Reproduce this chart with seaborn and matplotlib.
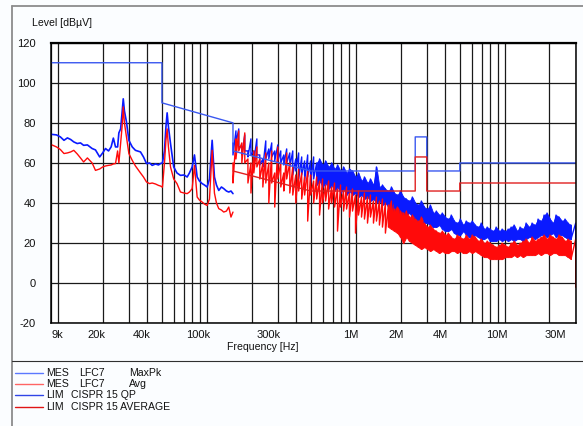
import numpy as np
import pandas as pd
import matplotlib
matplotlib.use("Agg")
import matplotlib.pyplot as plt
import matplotlib.transforms as mtransforms
from matplotlib.lines import Line2D
from matplotlib.ticker import LogLocator, NullFormatter
import seaborn as sns

# --- measurement, band 9 kHz - 150 kHz (frequencies in kHz) ---
band1_khz = [9.0, 9.8, 10.4, 11.0, 11.6, 12.2, 12.8, 13.5, 14.2, 14.9,
             15.8, 17.0, 17.9, 19.1, 20.0, 20.9, 21.9, 22.8, 23.6, 24.4,
             25.2, 25.7, 26.4, 27.0, 27.5, 28.0, 28.9, 30.0, 31.6, 33.2,
             35.9, 37.6, 39.4, 41.3, 43.0, 45.3, 47.4, 48.9, 50.4, 52.0,
             53.2, 54.2, 55.3, 57.1, 60.0, 63.1, 66.6, 70.3, 73.9, 76.5,
             79.8, 82.7, 86.2, 89.3, 93.1, 96.5, 100.6, 104.3, 108.7, 112.6,
             116.2, 120.4, 125.5, 130.0, 135.6, 140.5, 145.4, 150.0]
band1_maxpk = [74.3, 74, 73, 71.3, 72.5, 71.7, 70.5, 69.7, 70, 68.8,
               69, 67.2, 66.5, 63, 65, 67.2, 66, 68, 72.4, 68,
               68, 75, 77, 85, 92, 86, 80.5, 71.3, 68, 66.3,
               65.5, 63, 59.7, 60, 58.8, 59.5, 59, 59.7, 60, 66,
               78, 85, 78, 69.7, 58, 55, 53.8, 54, 53, 55,
               58, 64, 53, 51, 49.7, 49, 48, 52, 71.3, 53,
               49, 46.3, 48, 47.2, 46, 45.5, 46, 44.7]
band1_avg = [69.2, 68, 66.7, 64.7, 65, 65.5, 66.3, 64.5, 62.5, 60.5,
             62.5, 60, 56.3, 57, 58, 58.5, 58.8, 59, 59.5, 59.7,
             66, 60, 69.7, 78, 88, 80, 73, 64.7, 61.3, 58.5,
             55, 53, 50.5, 49.7, 50, 49.5, 48.8, 48.5, 47.9, 60,
             71.3, 77, 68, 58, 52, 49.7, 45.5, 45, 44.7, 45.5,
             47.2, 58.8, 43, 41.5, 40.5, 39.5, 38.8, 42, 66.3, 45,
             40, 37.2, 36.5, 35.5, 36, 38, 33, 35.5]

# --- measurement, band 150 kHz - 30 MHz, max/min per display point ---
band2_khz = [150, 157, 164, 172, 180, 189, 198, 207, 217, 227,
             238, 249, 261, 273, 286, 300, 314, 329, 344, 361,
             378, 396, 414, 434, 454, 476, 498, 522, 547, 572,
             599, 628, 658, 689, 721, 755, 791, 829, 868, 909,
             952, 997, 1044, 1094, 1145, 1200, 1256, 1316, 1378, 1443,
             1512, 1583, 1658, 1737, 1819, 1905, 1995, 2090, 2189, 2292,
             2401, 2515, 2634, 2758, 2889, 3026, 3169, 3319, 3477, 3641,
             3814, 3994, 4184, 4382, 4589, 4807, 5035, 5273, 5523, 5784,
             6058, 6345, 6646, 6961, 7290, 7636, 7997, 8376, 8773, 9189,
             9624, 10080, 10557, 11057, 11581, 12130, 12704, 13306, 13936, 14596,
             15288, 16012, 16770, 17565, 18397, 19268, 20181, 21137, 22139, 23187,
             24286, 25436, 26641, 27903, 30000]
maxpk_hi = [70, 76, 77, 68, 74, 66, 72, 66, 72, 64,
            62, 71, 67, 70, 66, 69, 66, 64, 67, 65,
            66, 62, 65, 63, 61, 64, 61, 63, 60, 62,
            59, 61, 58, 60, 57, 59, 56, 58, 55, 57,
            56, 53, 55, 51, 53, 50, 52, 49, 58, 48,
            49, 47, 46, 48, 45, 44, 46, 43, 42, 41,
            43, 40, 39, 41, 38, 37, 39, 35, 36, 34,
            35, 33, 32, 34, 31, 30, 32, 29, 31, 30,
            31, 29, 28, 30, 27, 28, 27, 26, 28, 26,
            27, 26, 27, 28, 29, 26, 28, 27, 30, 28,
            30, 29, 32, 31, 34, 35, 32, 30, 34, 33,
            31, 32, 30, 29, 30]
maxpk_lo = [64, 70, 68, 64, 66, 63, 64, 61, 64, 59,
            58, 62, 62, 63, 61, 61, 60, 59, 60, 58,
            54, 56, 52, 54, 51, 53, 50, 52, 49, 51,
            48, 50, 47, 49, 46, 48, 45, 47, 44, 46,
            44, 45, 43, 44, 42, 43, 41, 42, 40, 41,
            39, 40, 38, 37, 36, 38, 35, 34, 34, 35,
            33, 32, 31, 33, 30, 30, 29, 28, 28, 29,
            27, 26, 26, 27, 25, 24, 24, 26, 24, 23,
            23, 24, 23, 22, 22, 23, 21, 21, 21, 22,
            21, 22, 21, 22, 21, 22, 22, 21, 22, 23,
            23, 22, 23, 24, 24, 23, 24, 25, 23, 24,
            24, 23, 22, 22, 5]
avg_hi = [60, 72, 76, 70, 75, 62, 60, 66, 68, 62,
          60, 65, 60, 66, 55, 68, 60, 55, 65, 60,
          58, 54, 57, 55, 53, 56, 54, 51, 53, 51,
          52, 49, 51, 48, 50, 47, 49, 46, 48, 45,
          47, 44, 46, 43, 45, 43, 44, 41, 43, 41,
          42, 40, 39, 41, 37, 38, 36, 35, 36, 33,
          34, 32, 31, 33, 30, 28, 29, 27, 26, 25,
          26, 24, 25, 23, 22, 24, 23, 22, 24, 22,
          24, 23, 21, 22, 20, 21, 20, 19, 18, 19,
          20, 19, 18, 20, 21, 19, 20, 21, 22, 20,
          23, 21, 22, 23, 24, 22, 24, 23, 22, 24,
          23, 21, 22, 21, 22]
avg_lo = [50, 62, 66, 60, 60, 50, 45, 55, 58, 52,
          48, 50, 40, 50, 38, 52, 48, 46, 52, 45,
          44, 40, 46, 42, 44, 31, 44, 40, 42, 34,
          40, 41, 37, 40, 38, 26, 38, 36, 37, 33,
          36, 25, 34, 33, 32, 30, 33, 30, 31, 29,
          28, 25, 28, 27, 26, 25, 23, 20, 23, 21,
          20, 19, 18, 17, 18, 17, 16, 17, 16, 15,
          16, 15, 15, 16, 16, 15, 16, 15, 15, 16,
          15, 16, 15, 14, 13, 13, 12, 12, 12, 12,
          12, 13, 13, 13, 14, 13, 14, 13, 14, 14,
          14, 14, 15, 14, 15, 15, 14, 15, 15, 14,
          14, 14, 13, 12, -2]

# --- CISPR 15 limits ---
qp_khz = [9, 50, 50, 150, 150, 500, 2510, 2510, 3000, 3000, 5000, 5000, 30000]
qp_level = [110, 110, 90, 80, 66, 56, 56, 73, 73, 56, 56, 60, 60]
av_khz = [150, 500, 2510, 2510, 3000, 3000, 5000, 5000, 30000]
av_level = [56, 46, 46, 63, 63, 46, 46, 50, 50]

tick_freqs = [9e3, 20e3, 40e3, 100e3, 300e3, 1e6, 2e6, 4e6, 10e6, 30e6]
tick_labels = ["9k", "20k", "40k", "100k", "300k", "1M", "2M", "4M", "10M", "30M"]
legend_rows = [("MES", "LFC7", "MaxPk"), ("MES", "LFC7", "Avg"),
               ("LIM", "CISPR 15 QP", ""), ("LIM", "CISPR 15 AVERAGE", "")]
legend_colors = ["#5b78ff", "#ff6464", "#2f45e6", "#e01515"]

sns.set_theme(style="white")
plt.rcParams['font.family'] = ['Liberation Sans', 'DejaVu Sans']
plt.rcParams['axes.unicode_minus'] = False

W, H = 583, 426
fig = plt.figure(figsize=(W / 100, H / 100), dpi=100, facecolor="#fbfdff")
ax = fig.add_axes([51 / W, 1 - 323.3 / H, 524.7 / W, 280.6 / H])
ax.set_facecolor("white")
ax.set_xscale("log")

BLUE = "#0a1aff"
RED = "#ff0a0a"

# band 1 as plain traces
b1 = pd.DataFrame({"freq": np.array(band1_khz) * 1e3, "maxpk": band1_maxpk, "avg": band1_avg})
# band 2 drawn as max/min pairs per frequency
f2 = np.array(band2_khz) * 1e3
b2 = pd.DataFrame({"freq": np.repeat(f2, 2),
                   "maxpk": np.column_stack([maxpk_hi, maxpk_lo]).ravel(),
                   "avg": np.column_stack([avg_hi, avg_lo]).ravel()})

sns.lineplot(data=b1, x="freq", y="maxpk", estimator=None, sort=False,
             color=BLUE, lw=1.2, ax=ax, legend=False)
sns.lineplot(data=b2, x="freq", y="maxpk", estimator=None, sort=False,
             color=BLUE, lw=1.0, ax=ax, legend=False)
# dense part of the sweep is a solid band
ax.fill_between(f2[28:114], maxpk_lo[28:114], maxpk_hi[28:114], color=BLUE, lw=0.6, ec=BLUE)

for df in (b1, b2):
    sns.lineplot(data=df, x="freq", y="avg", estimator=None, sort=False,
                 color=RED, lw=1.0, ax=ax, legend=False)
ax.fill_between(f2[52:114], avg_lo[52:114], avg_hi[52:114], color=RED, lw=0.6, ec=RED)

qp = pd.DataFrame({"freq": np.array(qp_khz) * 1e3, "level": qp_level})
av = pd.DataFrame({"freq": np.array(av_khz) * 1e3, "level": av_level})
sns.lineplot(data=qp, x="freq", y="level", estimator=None, sort=False,
             color="#3a58f0", lw=1.0, ax=ax, legend=False)
sns.lineplot(data=av, x="freq", y="level", estimator=None, sort=False,
             color="#e02020", lw=1.0, ax=ax, legend=False)

ax.set_xlim(9e3, 30e6)
ax.set_ylim(-20, 120)
ax.set_xlabel("")
ax.set_ylabel("")
ax.set_yticks(np.arange(-20, 121, 20))
ax.set_xticks(tick_freqs, tick_labels)
ax.xaxis.set_minor_locator(LogLocator(base=10, subs=np.arange(1, 10), numticks=20))
ax.xaxis.set_minor_formatter(NullFormatter())
ax.grid(True, which="both", axis="x", color="#1a1a1a", lw=0.9)
ax.grid(True, which="major", axis="y", color="#1a1a1a", lw=0.9)
ax.set_axisbelow(True)
ax.tick_params(axis="both", which="both", length=0, labelsize=8, colors="#111111")
ax.tick_params(axis="y", pad=11)
ax.tick_params(axis="x", pad=4.5)
for s in ax.spines.values():
    s.set_color("black")
    s.set_linewidth(1.1)
ax.spines["top"].set_linewidth(1.6)

# x tick labels sit to the left of their grid line
shifts = [0, 3, 3, 3, 3, 3, 3, 3, 3, -10]
for lab, d in zip(ax.get_xticklabels(), shifts):
    lab.set_horizontalalignment("left" if d == 0 else "right")
    lab.set_transform(lab.get_transform() + mtransforms.ScaledTranslation(d / 100, 0, fig.dpi_scale_trans))

fig.text(32 / W, 1 - 23 / H, "Level [dBµV]", fontsize=7.6, ha="left", va="center", color="#111111")
fig.text(263 / W, 1 - 347.5 / H, "Frequency [Hz]", fontsize=7.6, ha="center", va="center", color="#111111")

# outer frame and legend box
fig.add_artist(Line2D([12 / W, 12 / W], [1 - 6 / H, 0], color="#8c8c8c", lw=1.3))
fig.add_artist(Line2D([12 / W, 1], [1 - 6 / H, 1 - 6 / H], color="#8c8c8c", lw=1.3))
fig.add_artist(Line2D([12 / W, 1], [1 - 360.7 / H, 1 - 360.7 / H], color="#303030", lw=0.8))

row_y = [372.7, 384, 395, 406.7]
for (c1, c2, c3), col, y in zip(legend_rows, legend_colors, row_y):
    fy = 1 - y / H
    fig.add_artist(Line2D([15 / W, 43 / W], [fy, fy], color=col, lw=1.0))
    fig.text(46.5 / W, fy, c1, fontsize=7.6, va="center", color="#111111")
    fig.text((79 if c1 == "MES" else 70.7) / W, fy, c2, fontsize=7.6, va="center", color="#111111")
    if c3:
        fig.text(129 / W, fy, c3, fontsize=7.6, va="center", color="#111111")

fig.savefig("out.png", dpi=100, facecolor=fig.get_facecolor())
